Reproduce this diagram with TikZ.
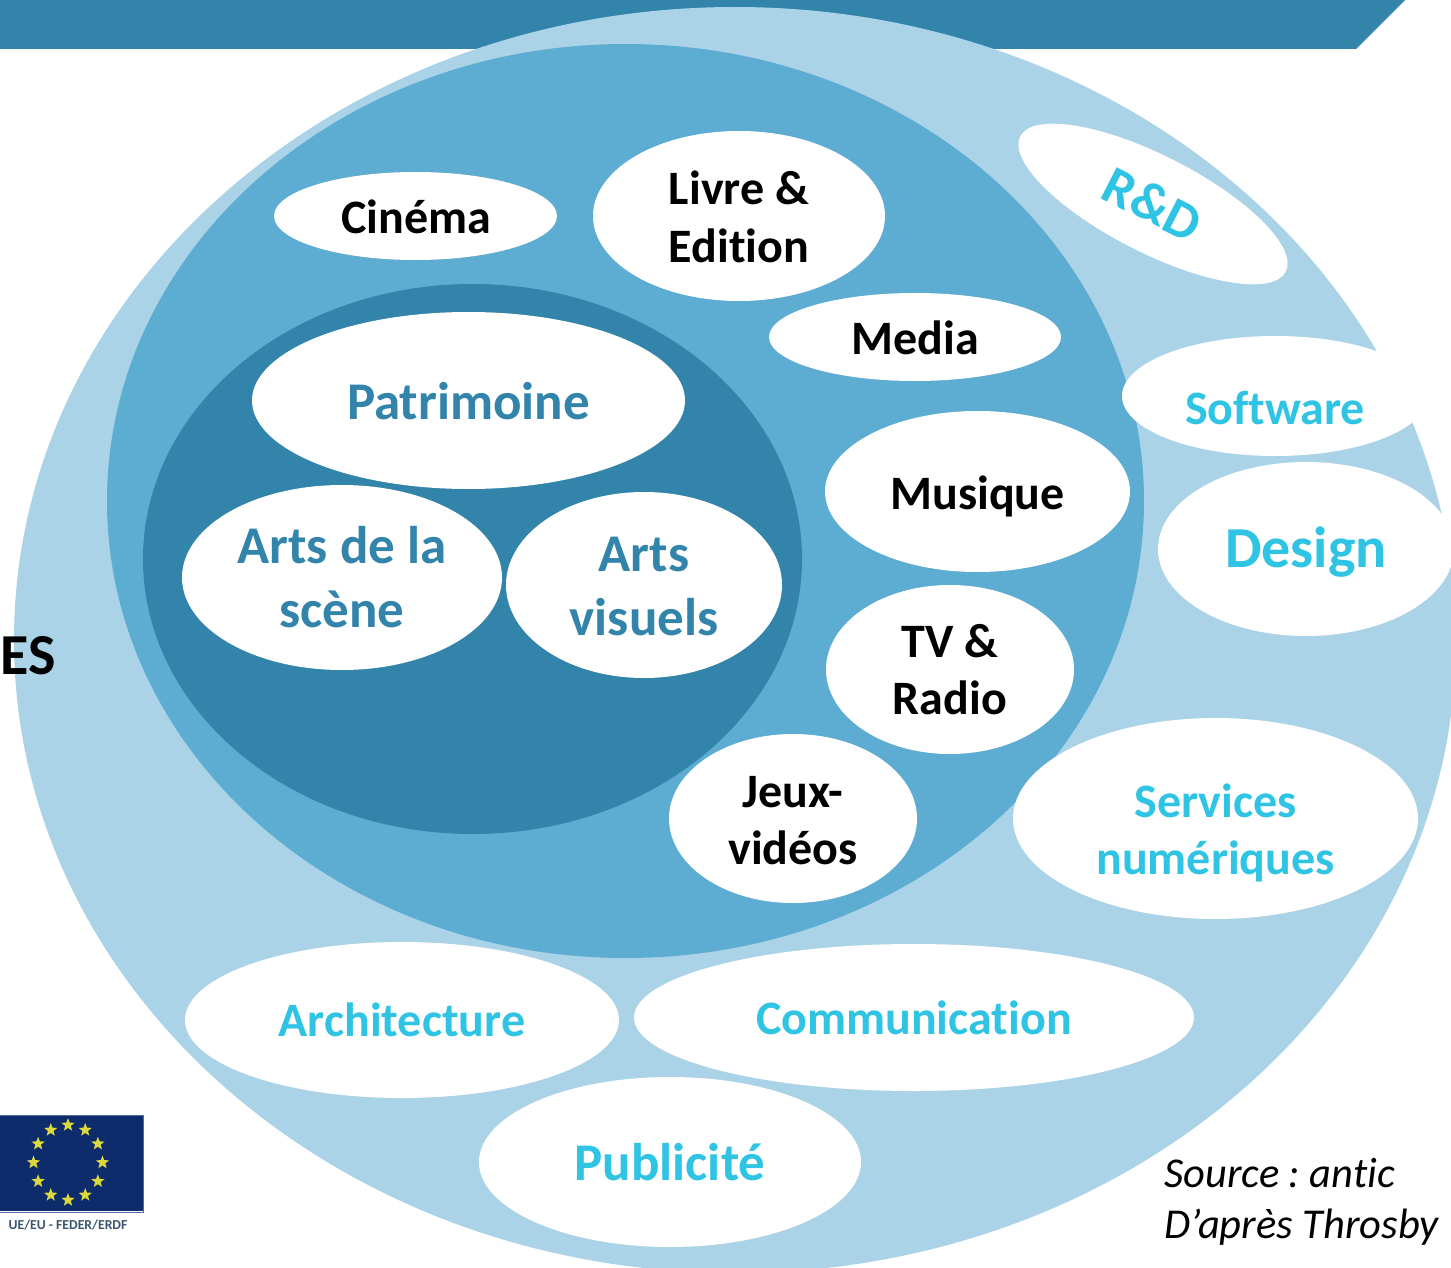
\documentclass[tikz,border=0pt]{standalone}
\usepackage{fontspec}
\setmainfont[Ligatures=NoCommon]{Carlito}
\usetikzlibrary{shapes.geometric,shapes.misc,calc}
\definecolor{lightb}{HTML}{ABD3E7}
\definecolor{midb}{HTML}{5DACD2}
\definecolor{darkb}{HTML}{3284AB}
\definecolor{cyant}{HTML}{2FC4E4}
\definecolor{euflag}{HTML}{0E2C6C}
\definecolor{euedge}{HTML}{4F6F9F}
\definecolor{eustar}{HTML}{DCD93C}
\definecolor{eutext}{HTML}{3A5570}
\tikzset{
 x=1pt,y=-1pt,
 blob/.style={ellipse,fill=white,inner sep=0pt,outer sep=0pt,align=center},
 core/.style={text=darkb,font=\bfseries\fontsize{53}{64}\selectfont},
 ring/.style={text=black,font=\bfseries\fontsize{48}{57.5}\selectfont},
 outerb/.style={text=cyant,font=\bfseries\fontsize{48}{57.5}\selectfont},
 euS/.style={star,star points=5,star point ratio=2.4,fill=eustar,inner sep=0pt,minimum size=14pt},
}
\newcommand{\lifted}[2]{\raisebox{#1}[\height][\depth]{#2}}
\newcommand{\lines}[2]{\lifted{#1}{\begin{tabular}{@{}c@{}}#2\end{tabular}}}
\newcommand{\blobnode}[7]{% name, x0,x1,y0,y1, style, text
 \node[blob,#6,minimum width=#3pt-#2pt,minimum height=#5pt-#4pt] (#1) at ({(#2+#3)/2},{(#4+#5)/2}) {#7};}
\begin{document}
\frenchspacing
\begin{tikzpicture}
\useasboundingbox (0,0) rectangle (1451,1268);
\fill[white] (0,0) rectangle (1451,1268);
\clip (0,0) rectangle (1451,1268);
\fill[darkb] (0,0) -- (1405,0) -- (1356,49) -- (0,49) -- cycle;
\fill[lightb] (735,640) ellipse [x radius=721,y radius=633];
\fill[midb] (625.5,501) ellipse [x radius=518.5,y radius=457];
\fill[darkb] (472.5,559) ellipse [x radius=329.5,y radius=275];
\blobnode{cinema}{274}{557}{172}{260}{ring}{\hspace{2pt}\lifted{-1pt}{Cinéma}}
\blobnode{livre}{593}{885}{131}{301}{ring}{\lines{-6pt}{Livre \&\\Edition}}
\blobnode{media}{769}{1061}{293}{381}{ring}{\lifted{-1pt}{Media}}
\blobnode{musique}{825}{1130}{411}{572}{ring}{\lifted{-5pt}{Musique}}
\blobnode{tv}{826}{1074}{585}{754}{ring}{TV \&\\Radio}
\blobnode{jeux}{669}{917}{734}{903}{ring}{\lines{-6pt}{Jeux-\\vidéos}}
\blobnode{patrimoine}{252}{685}{312}{489}{core}{\lifted{-1pt}{Patrimoine}}
\blobnode{scene}{182}{502}{485}{670}{core}{\lines{-5pt}{Arts de la\\scène}}
\blobnode{visuels}{506}{782}{492}{678}{core}{\lines{-6pt}{Arts\\visuels}}
\blobnode{software}{1122}{1428}{336}{456}{outerb}{\lifted{-12pt}{Software}}
\blobnode{design}{1158}{1454}{462}{636}{outerb,font=\bfseries\fontsize{58}{60}\selectfont}{\lifted{-3pt}{Design}}
\blobnode{services}{1013}{1418}{718}{919}{outerb}{\lines{-16pt}{Services\\numériques}}
\blobnode{archi}{185}{619}{942}{1098}{outerb}{Architecture}
\blobnode{comm}{634}{1194}{944}{1091}{outerb}{Communication}
\blobnode{pub}{479}{861}{1077}{1247}{core,text=cyant}{Publicité}
\node[blob,outerb,rotate=-27,minimum width=298pt,minimum height=97pt,font=\bfseries\fontsize{54}{60}\selectfont] (rd) at (1153,204) {R\&D};
\node[font=\bfseries\fontsize{58}{58}\selectfont,inner sep=0pt] (es) at (28.5,656) {ES};
\node[font=\itshape\fontsize{42.5}{51}\selectfont,align=left,inner sep=0pt,anchor=west] (src) at (1164,1202) {Source : antic\\D’après Throsby};
% EU flag
\fill[euflag] (0,1115) rectangle (143,1211);
\draw[euedge,line width=1pt] (0,1115) -- (143.5,1115) -- (143.5,1212) -- (0,1212);
\coordinate (euc) at (68,1162.5);
\foreach \a in {0,30,...,330}{\node[euS] at ($(euc)+(\a:34.5 and 37.5)$) {};}
\node[font=\bfseries\fontsize{13.7}{13.7}\selectfont,text=eutext,inner sep=0pt] (eul) at (68,1225) {UE/EU - FEDER/ERDF};
\end{tikzpicture}
\end{document}
